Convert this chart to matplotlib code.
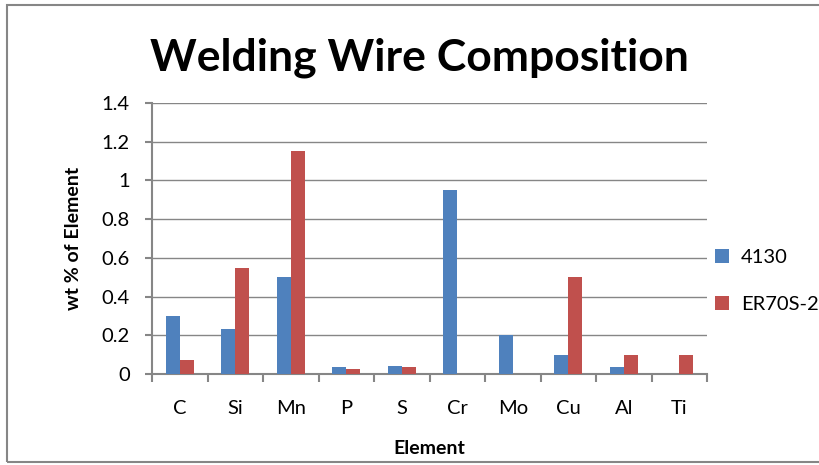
import numpy as np
import matplotlib
matplotlib.use('Agg')
from matplotlib import pyplot as plt
from matplotlib.patches import Rectangle

plt.rcParams['font.family'] = ['Lato', 'DejaVu Sans']

elementy = ['C', 'Si', 'Mn', 'P', 'S', 'Cr', 'Mo', 'Cu', 'Al', 'Ti']
wart_4130 = [0.30, 0.23, 0.50, 0.035, 0.04, 0.95, 0.20, 0.10, 0.035, 0.0]
wart_er70s2 = [0.07, 0.55, 1.15, 0.025, 0.035, 0.0, 0.0, 0.50, 0.10, 0.10]
serie = ['4130', 'ER70S-2']

niebieski = '#4F81BD'
czerwony = '#C0504D'
szary = '#868686'

fig = plt.figure(figsize=(8.2, 4.65), dpi=100)
ax = fig.add_axes([0.1854, 0.1957, 0.8622 - 0.1854, 0.7785 - 0.1957])

x = np.arange(len(elementy))
szer = 0.25
ax.bar(x - szer / 2, wart_4130, szer, color=niebieski, label=serie[0], zorder=3)
ax.bar(x + szer / 2, wart_er70s2, szer, color=czerwony, label=serie[1], zorder=3)

ax.set_xlim(-0.5, len(elementy) - 0.5)
ax.set_ylim(0, 1.4)
ax.set_yticks(np.arange(0, 1.41, 0.2))
ax.set_yticklabels(['0', '0.2', '0.4', '0.6', '0.8', '1', '1.2', '1.4'], fontsize=14.5)
ax.set_xticks(x)
ax.set_xticklabels(elementy, fontsize=14.5)
ax.set_xticks(np.arange(-0.5, len(elementy), 1), minor=True)
ax.tick_params(axis='x', which='major', length=0, pad=19)
ax.tick_params(axis='x', which='minor', length=6, width=1.5, color=szary, direction='out')
ax.tick_params(axis='y', length=5, width=1.5, color=szary, direction='out', pad=11)

ax.grid(axis='y', color=szary, linewidth=1, zorder=0)
for s in ['top', 'right']:
    ax.spines[s].set_visible(False)
for s in ['left', 'bottom']:
    ax.spines[s].set_color(szary)
    ax.spines[s].set_linewidth(1.5)

ax.set_xlabel('Element', fontsize=14, fontweight='bold', labelpad=16)
ax.set_ylabel('wt % of Element', fontsize=14, fontweight='bold', labelpad=14)
fig.text(0.512, 0.876, 'Welding Wire Composition', fontsize=32, fontweight='bold',
         ha='center', va='center')

fig.legend(loc='center left', bbox_to_anchor=(0.862, 0.396), frameon=False,
           fontsize=14.5, handlelength=0.7, handleheight=0.7, handletextpad=0.6,
           labelspacing=1.5, borderaxespad=0)

fig.patches.append(Rectangle((7 / 820, 3 / 465), 1.0, 457 / 465, transform=fig.transFigure,
                             fill=False, edgecolor=szary, linewidth=1.5))

plt.savefig('out.png', dpi=100)
